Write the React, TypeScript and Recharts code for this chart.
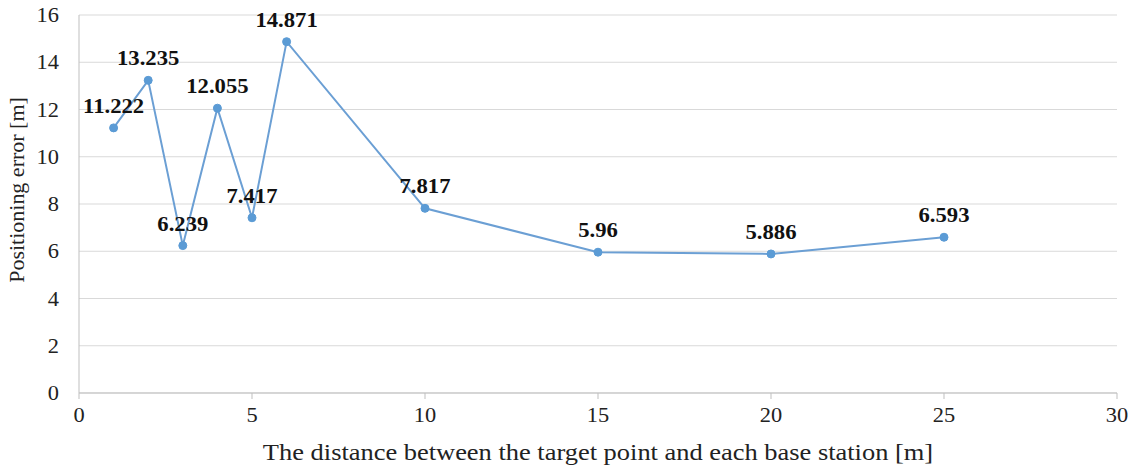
import { LineChart, Line, XAxis, YAxis, CartesianGrid, LabelList, Label } from 'recharts';

const distances = [1, 2, 3, 4, 5, 6, 10, 15, 20, 25];
const errors = [11.222, 13.235, 6.239, 12.055, 7.417, 14.871, 7.817, 5.96, 5.886, 6.593];
const xTicks = [0, 5, 10, 15, 20, 25, 30];
const yTicks = [0, 2, 4, 6, 8, 10, 12, 14, 16];

const data = distances.map((d, i) => ({ d, err: errors[i] }));

const FONT = '"Liberation Serif", "Times New Roman", serif';

const XTick = (props: any) => {
  const { x, y, payload } = props;
  return (
    <text transform={`translate(${x},${y + 21}) scale(1.12,1)`} textAnchor="middle" fontFamily={FONT} fontSize={20} fill="#222">
      {payload.value}
    </text>
  );
};

const YTick = (props: any) => {
  const { x, y, payload } = props;
  return (
    <text transform={`translate(${x - 12},${y + 7}) scale(1.12,1)`} textAnchor="end" fontFamily={FONT} fontSize={20} fill="#222">
      {payload.value}
    </text>
  );
};

const PointLabel = (props: any) => {
  const { x, y, value } = props;
  return (
    <text transform={`translate(${x},${y - 15}) scale(1.08,1)`} textAnchor="middle" fontFamily={FONT} fontWeight="bold" fontSize={21} fill="#111">
      {value}
    </text>
  );
};

const App = () => {
  return (
    <div style={{ position: 'absolute', left: 0, top: 0, background: '#fff' }}>
      <LineChart width={1140} height={467} data={data} margin={{ top: 15, right: 23, left: 19, bottom: 24 }}>
        <CartesianGrid vertical={false} stroke="#d9d9d9" />
        <XAxis
          type="number"
          dataKey="d"
          domain={[0, 30]}
          ticks={xTicks}
          height={50}
          stroke="#bfbfbf"
          tickSize={6}
          tick={<XTick />}
        >
          <Label
            content={() => (
              <text transform="translate(598,460) scale(1.15,1)" textAnchor="middle" fontFamily={FONT} fontSize={23} fill="#222">
                The distance between the target point and each base station [m]
              </text>
            )}
          />
        </XAxis>
        <YAxis
          type="number"
          domain={[0, 16]}
          ticks={yTicks}
          width={60}
          stroke="#bfbfbf"
          tickLine={false}
          tick={<YTick />}
        >
          <Label
            content={() => (
              <text transform="translate(24,190) rotate(-90) scale(1.1,1)" textAnchor="middle" fontFamily={FONT} fontSize={20} fill="#222">
                Positioning error [m]
              </text>
            )}
          />
        </YAxis>
        <Line
          type="linear"
          dataKey="err"
          stroke="#6b9fd4"
          strokeWidth={2}
          dot={{ r: 4, fill: '#5b9bd5', stroke: '#5b9bd5', strokeWidth: 1 }}
          isAnimationActive={false}
        >
          <LabelList dataKey="err" content={<PointLabel />} />
        </Line>
      </LineChart>
    </div>
  );
};

export default App;
